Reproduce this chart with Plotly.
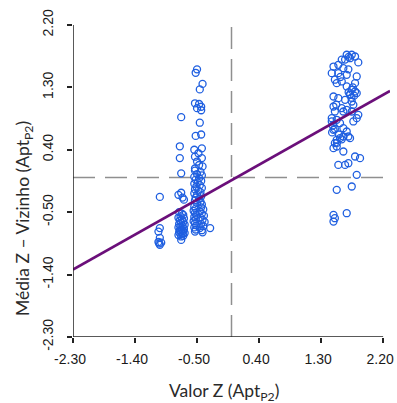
import numpy as np
import plotly.graph_objects as go

# ---------------- data ----------------
# left small cluster
left_x = [-1.04, -1.04, -1.06, -1.04, -1.06, -1.02, -1.04, -1.05]
left_y = [-0.28, -0.73, -0.78, -0.87, -0.93, -0.94, -0.97, -0.95]

# middle column (~ -0.72)
mid_x = [-0.73, -0.75, -0.75, -0.73, -0.73, -0.77, -0.71, -0.69, -0.76, -0.72, -0.70, -0.74,
         -0.77, -0.69, -0.72, -0.75, -0.70, -0.73, -0.76, -0.68, -0.71, -0.74, -0.77, -0.69,
         -0.72, -0.75, -0.70, -0.73, -0.76, -0.68, -0.71, -0.74, -0.77, -0.70, -0.73, -0.73]
mid_y = [0.87, 0.45, 0.28, 0.06, -0.22, -0.25, -0.29, -0.32, -0.50, -0.52, -0.54, -0.56,
         -0.58, -0.59, -0.61, -0.62, -0.64, -0.65, -0.67, -0.68, -0.70, -0.71, -0.72, -0.74,
         -0.75, -0.76, -0.77, -0.78, -0.79, -0.80, -0.81, -0.82, -0.83, -0.84, -0.85, -0.90]

# main column (~ -0.48), upper part
main_x = [-0.50, -0.52, -0.42, -0.46, -0.53, -0.47, -0.44, -0.50, -0.44, -0.46, -0.52,
          -0.44, -0.54, -0.43, -0.48, -0.53, -0.43, -0.50, -0.47, -0.53, -0.42]
main_y = [1.56, 1.51, 1.35, 1.27, 1.07, 1.06, 1.02, 1.00, 0.97, 0.79, 0.60,
          0.62, 0.40, 0.42, 0.35, 0.30, 0.28, 0.23, 0.18, 0.13, 0.16]

# main column, dense middle part
mainmid_x = [-0.53, -0.45, -0.50, -0.43, -0.54, -0.47, -0.52, -0.44, -0.49, -0.54, -0.46, -0.51, -0.43,
             -0.53, -0.48, -0.45, -0.54, -0.50, -0.44, -0.52, -0.47, -0.53, -0.45, -0.50, -0.43]
mainmid_y = [0.10, 0.08, 0.05, 0.03, 0.01, -0.01, -0.03, -0.05, -0.07, -0.09, -0.11, -0.13, -0.15,
             -0.17, -0.19, -0.21, -0.23, -0.25, -0.27, -0.29, -0.31, -0.33, -0.35, -0.37, -0.39]

# main column, dense lower blocks
mainlow_x = [-0.54, -0.52, -0.55, -0.53, -0.51, -0.54, -0.52, -0.55, -0.53, -0.51, -0.54, -0.52, -0.53,
             -0.44, -0.41, -0.46, -0.43, -0.40, -0.45, -0.42, -0.39, -0.44, -0.41, -0.46, -0.43, -0.42, -0.31]
mainlow_y = [-0.42, -0.45, -0.48, -0.51, -0.54, -0.57, -0.60, -0.63, -0.66, -0.69, -0.72, -0.75, -0.78,
             -0.43, -0.46, -0.49, -0.52, -0.55, -0.58, -0.61, -0.64, -0.67, -0.70, -0.73, -0.76, -0.79, -0.73]

# right cluster (~1.45 .. 1.87)
right_x = [1.672, 1.745, 1.793, 1.720, 1.648, 1.840, 1.550, 1.480, 1.623, 1.696, 1.455, 1.550, 1.672,
           1.817, 1.500, 1.600, 1.527, 1.793, 1.672, 1.745, 1.793, 1.817, 1.720, 1.480, 1.550, 1.648,
           1.745, 1.768, 1.480, 1.600, 1.672, 1.500, 1.623, 1.745, 1.840, 1.817, 1.455, 1.527, 1.455,
           1.575, 1.768, 1.480, 1.623, 1.672, 1.696, 1.623, 1.575, 1.527, 1.720, 1.500, 1.527, 1.480,
           1.623, 1.648, 1.550, 1.696, 1.793, 1.865, 1.817, 1.527, 1.745, 1.480, 1.672, 1.480, 1.500,
           1.720, 1.700, 1.740, 1.780, 1.760, 1.600, 1.700, 1.580, 1.520, 1.460, 1.470, 1.500, 1.530,
           1.560, 1.600]
right_y = [1.77, 1.77, 1.745, 1.72, 1.70, 1.66, 1.625, 1.60, 1.577, 1.56, 1.505, 1.505, 1.48,
           1.457, 1.41, 1.385, 1.36, 1.36, 1.313, 1.265, 1.24, 1.216, 1.192, 1.168, 1.144, 1.12,
           1.096, 1.048, 1.024, 1.00, 0.976, 0.952, 0.952, 0.952, 0.904, 0.856, 0.856, 0.832, 0.808,
           0.784, 0.808, 0.687, 0.711, 0.663, 0.591, 0.591, 0.567, 0.543, 0.567, 0.495, 0.447, 0.423,
           0.375, 0.182, 0.182, 0.206, 0.303, 0.279, 0.038, -0.178, -0.13, -0.539, -0.515, -0.635, -0.587,
           1.20, 1.23, 1.15, 1.18, 1.30, 1.70, 1.74, 1.45, 1.05, 0.65, 0.75, 0.70, 0.50,
           0.62, 0.55]

# fitted regression line (intercept, slope)
reg_intercept = -0.04
reg_slope = 0.56

# axes
axis_min = -2.30
axis_max = 2.30
tick_vals = [-2.30, -1.40, -0.50, 0.40, 1.30, 2.20]
tick_text = ["-2.30", "-1.40", "-0.50", "0.40", "1.30", "2.20"]

x_title = "Valor Z (Apt<sub>P2</sub>)"
y_title = "Média Z – Vizinho (Apt<sub>P2</sub>)"

# --------------- build ----------------
xs = left_x + mid_x + main_x + mainmid_x + mainlow_x + right_x
ys = left_y + mid_y + main_y + mainmid_y + mainlow_y + right_y
assert len(xs) == len(ys)

fig = go.Figure()

dash_style = dict(color="#8f8f8f", width=1.5, dash="22px,10px")
fig.add_shape(type="line", xref="x", yref="y", x0=0, x1=0, y0=axis_min, y1=axis_max, line=dash_style, layer="below")
fig.add_shape(type="line", xref="x", yref="y", x0=axis_min, x1=axis_max, y0=0, y1=0, line=dash_style, layer="below")

fig.add_trace(go.Scatter(
    x=xs, y=ys, mode="markers",
    marker=dict(symbol="circle-open", size=7, color="#1f5fe0", line=dict(width=1.3)),
    hoverinfo="skip", showlegend=False))

line_x = np.array([axis_min, axis_max])
line_y = reg_intercept + reg_slope * line_x
fig.add_trace(go.Scatter(
    x=line_x, y=line_y, mode="lines",
    line=dict(color="#6b0f7a", width=2.6),
    hoverinfo="skip", showlegend=False))

# L-shaped axis lines (R style: from first to last tick)
axis_line = dict(color="#222222", width=1.5)
fig.add_shape(type="line", xref="x", yref="y", x0=axis_min, x1=axis_min, y0=tick_vals[0], y1=tick_vals[-1], line=axis_line)
fig.add_shape(type="line", xref="x", yref="y", x0=tick_vals[0], x1=tick_vals[-1], y0=axis_min, y1=axis_min, line=axis_line)

tick_font = dict(family="Liberation Sans, Arial, sans-serif", size=14, color="#1a1a1a")
common_axis = dict(
    range=[axis_min, axis_max], showgrid=False, zeroline=False, showline=False,
    tickmode="array", tickvals=tick_vals, ticktext=tick_text,
    ticks="outside", ticklen=5, tickwidth=1.5, tickcolor="#222222",
    tickfont=tick_font, automargin=False, ticklabeloverflow="allow",
)
fig.update_xaxes(**common_axis, ticklabelstandoff=4, ticklabelshift=-3)
fig.update_yaxes(**common_axis, tickangle=-90, ticklabelstandoff=8)

title_font = dict(family="Lato, Open Sans, sans-serif", size=17.5, color="#2a2a2a")
fig.add_annotation(text=x_title, xref="paper", yref="paper", x=0.476, y=0, yshift=-55,
                   xanchor="center", yanchor="middle", showarrow=False, font=title_font)
fig.add_annotation(text=y_title, xref="paper", yref="paper", x=0, y=0.37, xshift=-63,
                   xanchor="left", yanchor="middle", textangle=-90, showarrow=False, font=title_font)

fig.update_layout(
    width=397, height=403,
    margin=dict(l=73, r=7, t=18, b=66, autoexpand=False),
    paper_bgcolor="white", plot_bgcolor="white",
)

# remove the browser's default page margin so the figure fills the window
fig.write_html("out.html", config={"displayModeBar": False},
               post_script="document.body.style.margin='0';document.body.style.overflow='hidden';")
